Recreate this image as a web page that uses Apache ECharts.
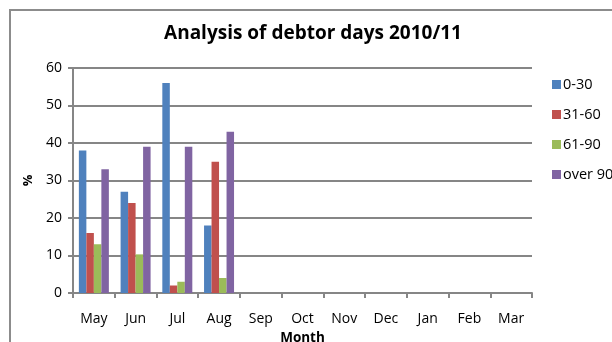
<!DOCTYPE html>
<html>
<head>
<meta charset="utf-8">
<script src="https://cdn.jsdelivr.net/npm/echarts@6/dist/echarts.min.js"></script>
<style>
html, body { margin: 0; padding: 0; background: #fff; }
#chart { width: 612px; height: 342px; }
</style>
</head>
<body>
<div id="chart"></div>
<script>
// Debtor-day buckets per month, financial year 2010/11
const months = ['May', 'Jun', 'Jul', 'Aug', 'Sep', 'Oct', 'Nov', 'Dec', 'Jan', 'Feb', 'Mar'];
const bucketNames = ['0-30', '31-60', '61-90', 'over 90'];
const days0to30 = [38, 27, 56, 18, null, null, null, null, null, null, null];
const days31to60 = [16, 24, 2, 35, null, null, null, null, null, null, null];
const days61to90 = [13, 10.3, 3, 4, null, null, null, null, null, null, null];
const daysOver90 = [33, 39, 39, 43, null, null, null, null, null, null, null];
const yTicks = [0, 10, 20, 30, 40, 50, 60];

const bucketValues = [days0to30, days31to60, days61to90, daysOver90];
const colors = ['#4F81BD', '#C0504D', '#9BBB59', '#8064A2'];
const font = '"Open Sans", "Liberation Sans", sans-serif';
const axisGrey = '#868686';

const chart = echarts.init(document.getElementById('chart'), null, { renderer: 'canvas' });
chart.setOption({
  animation: false,
  backgroundColor: '#ffffff',
  graphic: [{
    type: 'rect',
    shape: { x: 10, y: 10, width: 800, height: 500 },
    style: { fill: 'none', stroke: '#8c8c8c', lineWidth: 2 },
    silent: true
  }],
  title: {
    text: 'Analysis of debtor days 2010/11',
    left: 308, top: 19, textAlign: 'center',
    textStyle: { fontFamily: font, fontWeight: 'bold', fontSize: 19, color: '#000' }
  },
  legend: {
    orient: 'vertical',
    left: 547, top: 72,
    itemWidth: 9, itemHeight: 9, itemGap: 15,
    icon: 'rect',
    data: bucketNames,
    textStyle: { fontFamily: font, fontSize: 14.5, color: '#000', padding: [0, 0, 0, -3] }
  },
  grid: { left: 73, right: 80, top: 68, bottom: 49, outerBoundsMode: 'none', containLabel: false },
  xAxis: {
    type: 'category',
    data: months,
    name: 'Month',
    nameLocation: 'middle',
    nameGap: 34,
    nameTextStyle: { fontFamily: font, fontWeight: 'bold', fontSize: 13.5, color: '#000' },
    axisLine: { lineStyle: { color: axisGrey, width: 2 } },
    axisTick: { show: true, length: 5, alignWithLabel: false, lineStyle: { color: axisGrey, width: 2 } },
    axisLabel: { fontFamily: font, fontSize: 14, color: '#000', margin: 19, interval: 0 }
  },
  yAxis: {
    type: 'value',
    min: yTicks[0], max: yTicks[yTicks.length - 1], interval: 10,
    name: '%',
    nameLocation: 'middle',
    nameGap: 38,
    nameRotate: 90,
    nameTextStyle: { fontFamily: font, fontWeight: 'bold', fontSize: 13, color: '#000' },
    axisLine: { show: true, lineStyle: { color: axisGrey, width: 2 } },
    axisTick: { show: true, length: 5, lineStyle: { color: axisGrey, width: 2 } },
    axisLabel: { fontFamily: font, fontSize: 14, color: '#000', margin: 11 },
    splitLine: { show: true, lineStyle: { color: axisGrey, width: 2 } }
  },
  series: bucketNames.map((name, i) => ({
    name: name,
    type: 'bar',
    data: bucketValues[i],
    barWidth: 7.5,
    barGap: '0%',
    itemStyle: { color: colors[i] }
  }))
});
</script>
</body>
</html>
